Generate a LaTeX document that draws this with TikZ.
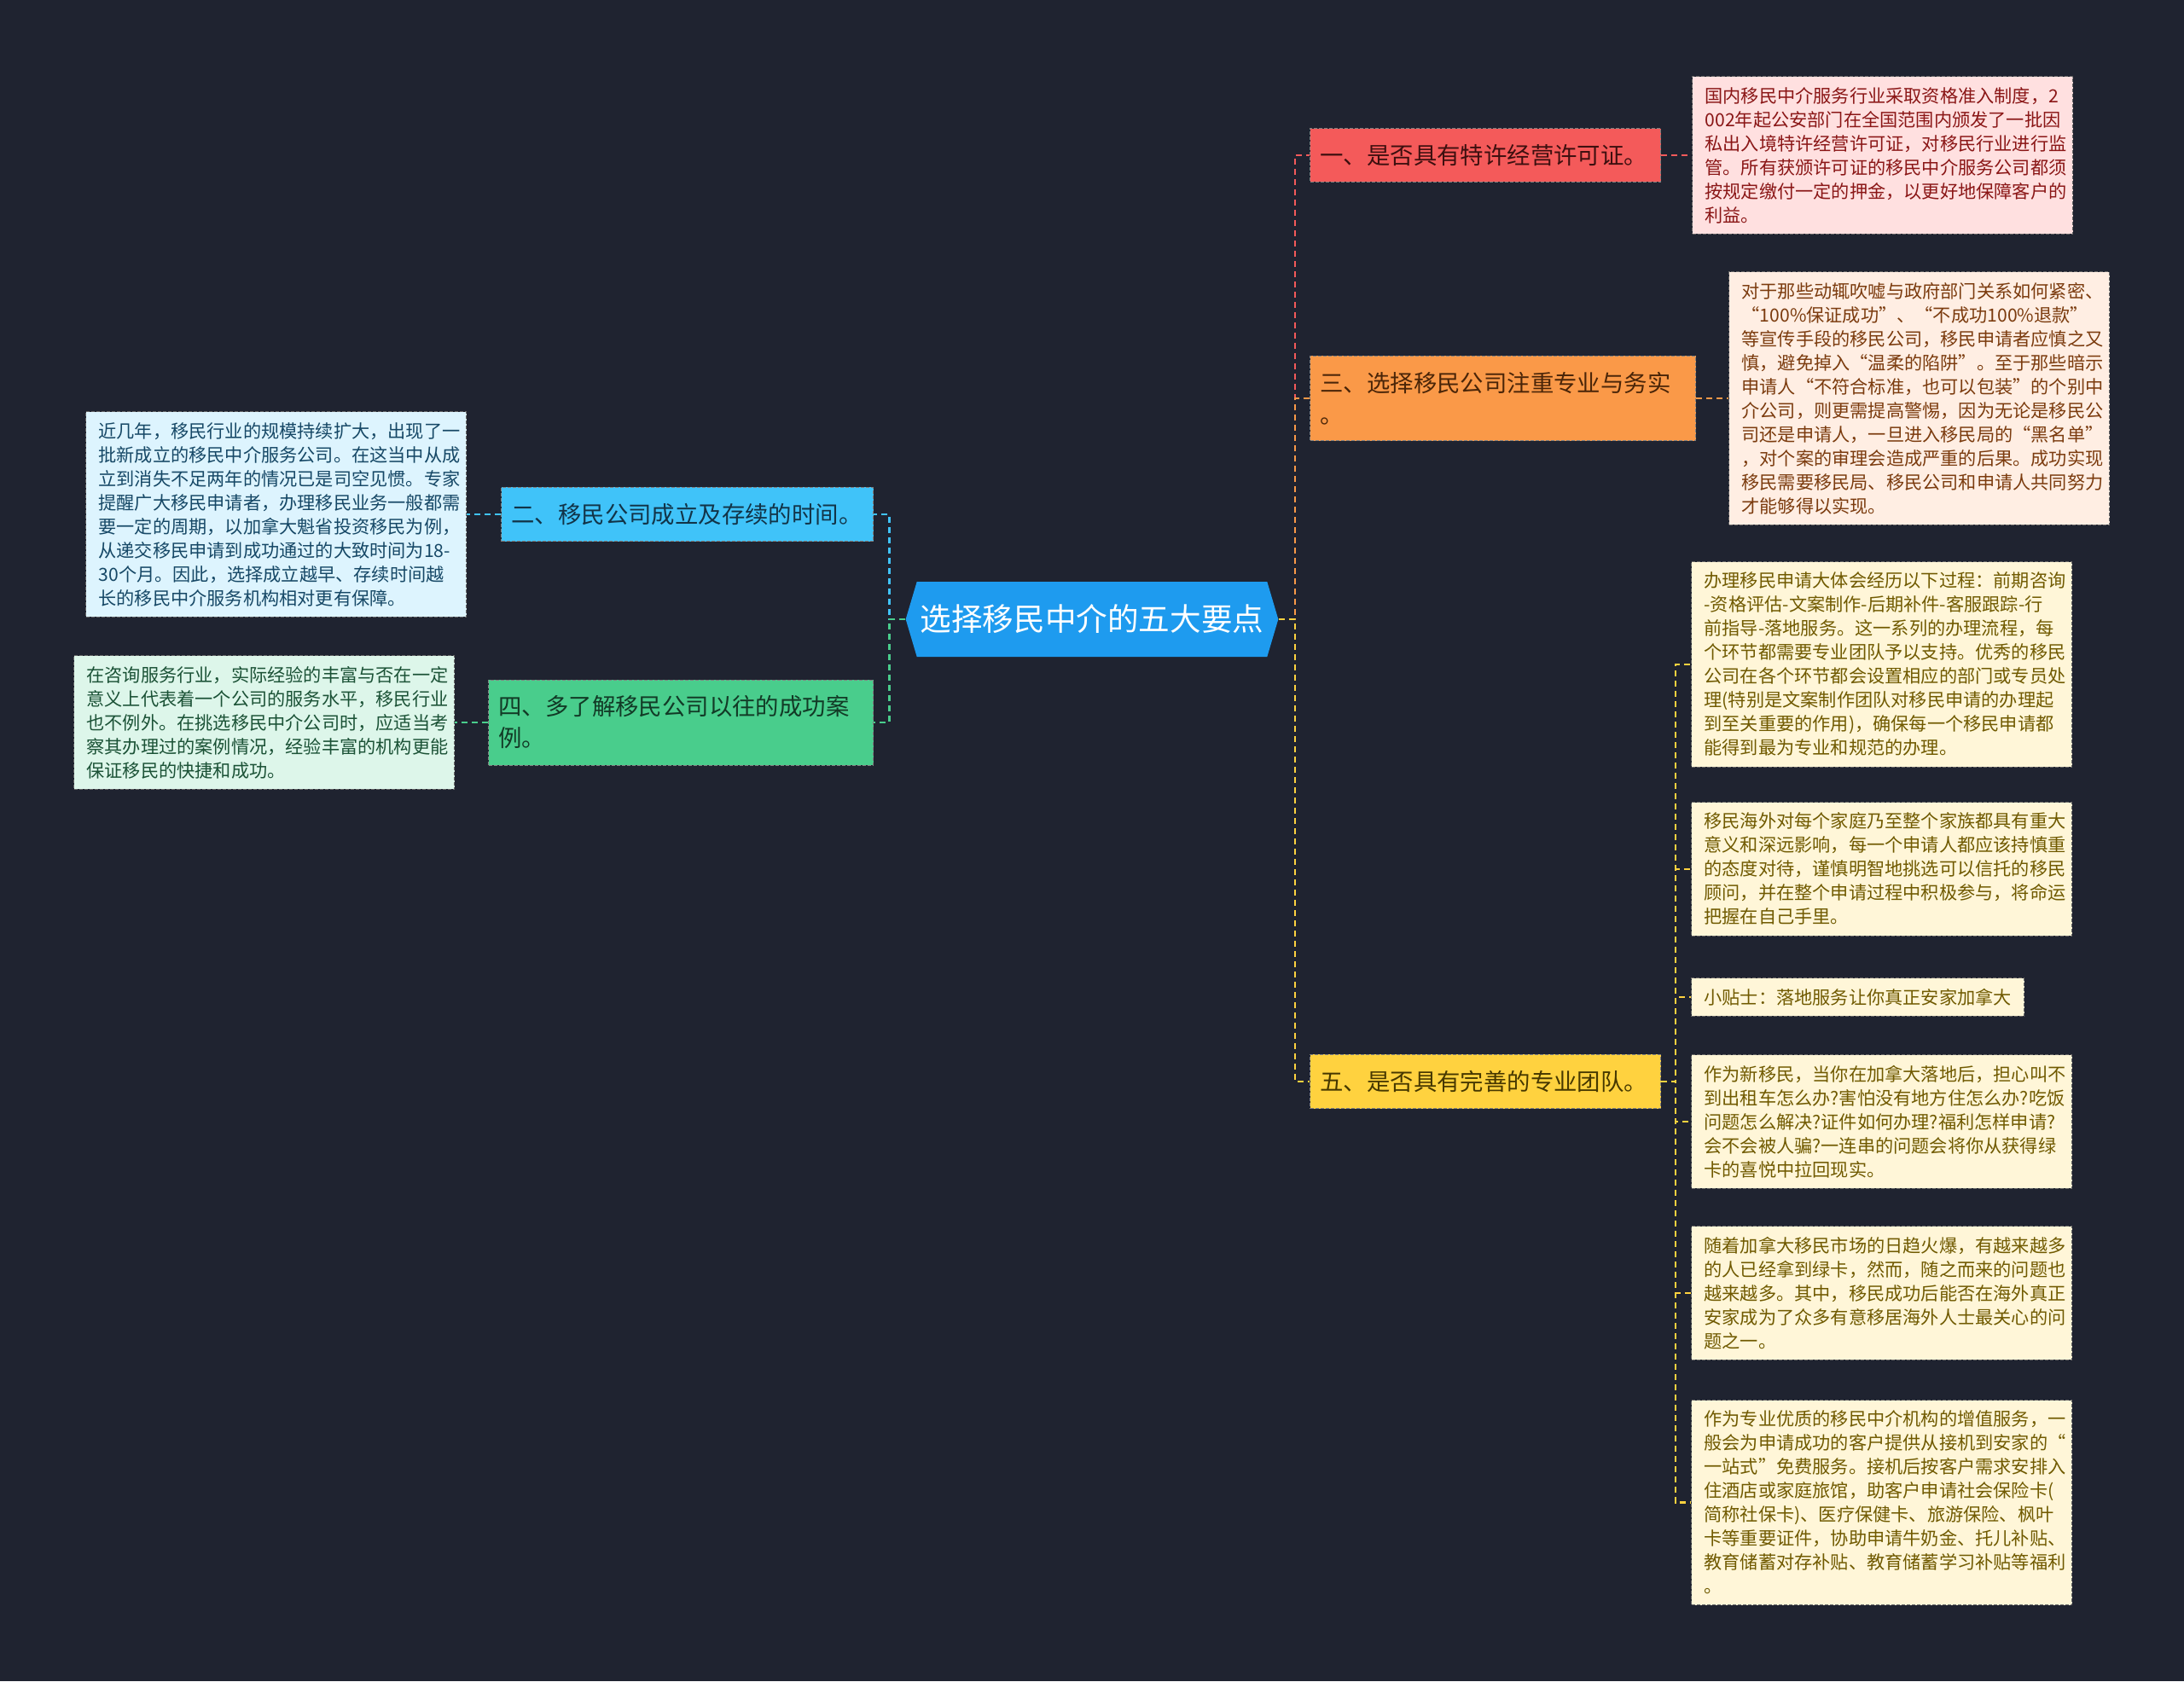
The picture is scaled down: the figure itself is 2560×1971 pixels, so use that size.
\documentclass[tikz,border=0pt]{standalone}
\usepackage{fontspec}
\setmainfont{Noto Sans CJK SC}
\usetikzlibrary{positioning,shapes.symbols}
\definecolor{bg}{HTML}{1F2330}
\definecolor{rootblue}{HTML}{1E9BEF}
\definecolor{redb}{HTML}{F45A5A}
\definecolor{orangeb}{HTML}{FA9948}
\definecolor{yellowb}{HTML}{FFD23F}
\definecolor{blueb}{HTML}{40C3F9}
\definecolor{greenb}{HTML}{49CD8C}
\definecolor{redt}{HTML}{3D0F0F}
\definecolor{oranget}{HTML}{4A2508}
\definecolor{yellowt}{HTML}{463800}
\definecolor{bluet}{HTML}{123448}
\definecolor{greent}{HTML}{123A26}
\definecolor{redl}{HTML}{FFE0E0}
\definecolor{orangel}{HTML}{FFEEE3}
\definecolor{yellowl}{HTML}{FFF6D8}
\definecolor{bluel}{HTML}{DDF4FE}
\definecolor{greenl}{HTML}{DDF6EA}
\definecolor{redlt}{HTML}{8A1616}
\definecolor{orangelt}{HTML}{7B3B0E}
\definecolor{yellowlt}{HTML}{705A00}
\definecolor{bluelt}{HTML}{164866}
\definecolor{greenlt}{HTML}{1B5236}
\tikzset{line/.style={draw, line width=1.25pt, dash pattern=on 3.5pt off 2.5pt}}

\begin{document}
\begin{tikzpicture}[x=0.5pt, y=-0.5pt, node distance=22.5pt]
\tikzstyle{root} = [shape=signal, signal to=east and west, signal pointer angle=147, fill=rootblue, text=white, font=\fontsize{18.3}{22}\selectfont, minimum height=44pt, inner xsep=2pt]
\tikzstyle{branch} = [rectangle, draw=black!50, dash pattern=on 2pt off 1pt, line width=0.5pt, align=left, inner xsep=6pt, inner ysep=9.4pt, font=\fontsize{13.7}{18.5}\selectfont]
\tikzstyle{leaf} = [rectangle, draw=black!60, dash pattern=on 2pt off 1pt, line width=0.5pt, align=left, text width=208pt, inner xsep=7.5pt, inner ysep=6.2pt, font=\fontsize{10.6}{14}\selectfont, fill=yellowl, text=yellowlt]

\useasboundingbox (0,0) rectangle (2560,1971);
\fill [bg] (0,0) rectangle (2560,1971);

\node [root] (root) at (1280,726) {选择移民中介的五大要点};

\node [branch, anchor=west, fill=redb, text=redt, text width=193.5pt] (one) at (1535,182) {一、是否具有特许经营许可证。};
\node [branch, anchor=west, fill=orangeb, text=oranget, text width=214pt] (three) at (1535,467) {三、选择移民公司注重专业与务实\\。};
\node [branch, anchor=west, fill=yellowb, text=yellowt, text width=193.5pt] (five) at (1535,1268) {五、是否具有完善的专业团队。};
\node [branch, anchor=east, fill=blueb, text=bluet, text width=206pt] (two) at (1024,603) {二、移民公司成立及存续的时间。};
\node [branch, anchor=east, fill=greenb, text=greent, text width=213.5pt] (four) at (1024,847) {四、多了解移民公司以往的成功案\\例。};

\node [leaf, fill=redl, text=redlt, right=18pt of one] (oneA) {国内移民中介服务行业采取资格准入制度，2\\002年起公安部门在全国范围内颁发了一批因\\私出入境特许经营许可证，对移民行业进行监\\管。所有获颁许可证的移民中介服务公司都须\\按规定缴付一定的押金，以更好地保障客户的\\利益。};
\node [leaf, fill=orangel, text=orangelt, right=19pt of three] (threeA) {对于那些动辄吹嘘与政府部门关系如何紧密、\\“100\%保证成功”、“不成功100\%退款”\\等宣传手段的移民公司，移民申请者应慎之又\\慎，避免掉入“温柔的陷阱”。至于那些暗示\\申请人“不符合标准，也可以包装”的个别中\\介公司，则更需提高警惕，因为无论是移民公\\司还是申请人，一旦进入移民局的“黑名单”\\，对个案的审理会造成严重的后果。成功实现\\移民需要移民局、移民公司和申请人共同努力\\才能够得以实现。};
\node [leaf, fill=bluel, text=bluelt, left=20pt of two] (twoA) {近几年，移民行业的规模持续扩大，出现了一\\批新成立的移民中介服务公司。在这当中从成\\立到消失不足两年的情况已是司空见惯。专家\\提醒广大移民申请者，办理移民业务一般都需\\要一定的周期，以加拿大魁省投资移民为例，\\从递交移民申请到成功通过的大致时间为18-\\30个月。因此，选择成立越早、存续时间越\\长的移民中介服务机构相对更有保障。};
\node [leaf, fill=greenl, text=greenlt, left=19.5pt of four] (fourA) {在咨询服务行业，实际经验的丰富与否在一定\\意义上代表着一个公司的服务水平，移民行业\\也不例外。在挑选移民中介公司时，应适当考\\察其办理过的案例情况，经验丰富的机构更能\\保证移民的快捷和成功。};

\node [leaf, anchor=north west] (fiveA) at (1982,658) {办理移民申请大体会经历以下过程：前期咨询\\-资格评估-文案制作-后期补件-客服跟踪-行\\前指导-落地服务。这一系列的办理流程，每\\个环节都需要专业团队予以支持。优秀的移民\\公司在各个环节都会设置相应的部门或专员处\\理(特别是文案制作团队对移民申请的办理起\\到至关重要的作用)，确保每一个移民申请都\\能得到最为专业和规范的办理。};
\node [leaf, anchor=north west] (fiveB) at (1982,940) {移民海外对每个家庭乃至整个家族都具有重大\\意义和深远影响，每一个申请人都应该持慎重\\的态度对待，谨慎明智地挑选可以信托的移民\\顾问，并在整个申请过程中积极参与，将命运\\把握在自己手里。};
\node [leaf, text width=, minimum height=21.5pt, anchor=north west] (fiveC) at (1982,1146) {小贴士：落地服务让你真正安家加拿大};
\node [leaf, anchor=north west] (fiveD) at (1982,1236) {作为新移民，当你在加拿大落地后，担心叫不\\到出租车怎么办?害怕没有地方住怎么办?吃饭\\问题怎么解决?证件如何办理?福利怎样申请?\\会不会被人骗?一连串的问题会将你从获得绿\\卡的喜悦中拉回现实。};
\node [leaf, anchor=north west] (fiveE) at (1982,1437) {随着加拿大移民市场的日趋火爆，有越来越多\\的人已经拿到绿卡，然而，随之而来的问题也\\越来越多。其中，移民成功后能否在海外真正\\安家成为了众多有意移居海外人士最关心的问\\题之一。};
\node [leaf, anchor=north west] (fiveF) at (1982,1641) {作为专业优质的移民中介机构的增值服务，一\\般会为申请成功的客户提供从接机到安家的“\\一站式”免费服务。接机后按客户需求安排入\\住酒店或家庭旅馆，助客户申请社会保险卡(\\简称社保卡)、医疗保健卡、旅游保险、枫叶\\卡等重要证件，协助申请牛奶金、托儿补贴、\\教育储蓄对存补贴、教育储蓄学习补贴等福利\\。};

\path [line, draw=redb] (root.east) -- ++(19,0) |- (one.west);
\path [line, draw=orangeb] (root.east) -- ++(19,0) |- (three.west);
\path [line, draw=yellowb] (root.east) -- ++(19,0) |- (five.west);
\path [line, draw=blueb] (root.west) -- ++(-19,0) |- (two.east);
\path [line, draw=greenb] (root.west) -- ++(-19,0) |- (four.east);

\path [line, draw=redb] (one.east) -- (oneA.west);
\path [line, draw=orangeb] (three.east) -- (threeA.west);
\path [line, draw=blueb] (two.west) -- (twoA.east);
\path [line, draw=greenb] (four.west) -- (fourA.east);
\path [line, draw=yellowb] (five.east) -- ++(17,0) |- (fiveA.west);
\path [line, draw=yellowb] (five.east) -- ++(17,0) |- (fiveB.west);
\path [line, draw=yellowb] (five.east) -- ++(17,0) |- (fiveC.west);
\path [line, draw=yellowb] (five.east) -- ++(17,0) |- (fiveD.west);
\path [line, draw=yellowb] (five.east) -- ++(17,0) |- (fiveE.west);
\path [line, draw=yellowb] (five.east) -- ++(17,0) |- (fiveF.west);

\end{tikzpicture}
\end{document}
